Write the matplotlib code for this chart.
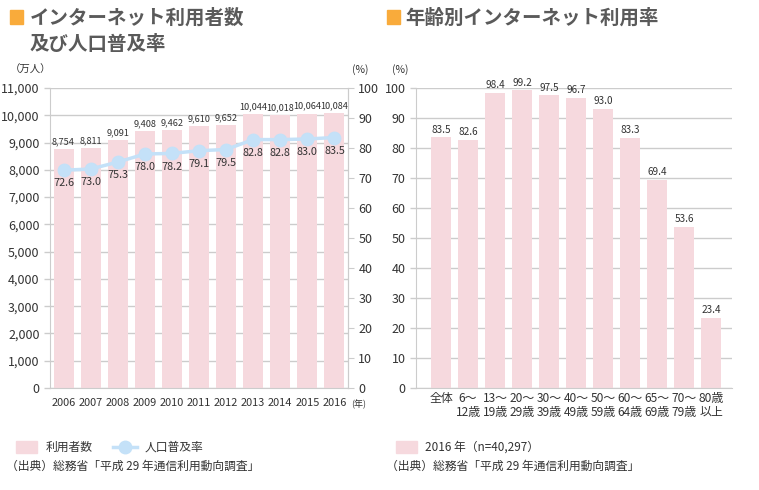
import numpy as np
import matplotlib
matplotlib.use('Agg')
import matplotlib.pyplot as plt
from matplotlib.patches import Rectangle
from matplotlib.lines import Line2D

plt.rcParams['font.family'] = ['Noto Sans CJK JP', 'DejaVu Sans']

years = ['2006', '2007', '2008', '2009', '2010', '2011', '2012', '2013', '2014', '2015', '2016']
users = [8754, 8811, 9091, 9408, 9462, 9610, 9652, 10044, 10018, 10064, 10084]
rate = [72.6, 73.0, 75.3, 78.0, 78.2, 79.1, 79.5, 82.8, 82.8, 83.0, 83.5]

ages = ['全体', '6～\n12歳', '13～\n19歳', '20～\n29歳', '30～\n39歳', '40～\n49歳',
        '50～\n59歳', '60～\n64歳', '65～\n69歳', '70～\n79歳', '80歳\n以上']
age_rate = [83.5, 82.6, 98.4, 99.2, 97.5, 96.7, 93.0, 83.3, 69.4, 53.6, 23.4]

pink = '#f6d9de'
blue = '#c4e1f8'
grid = '#cccccc'
txt = '#333333'
title_c = '#5a5a5a'
orange = '#f9ab3b'

W, H = 759, 490
fig = plt.figure(figsize=(W / 100, H / 100), dpi=100)


def fx(px):
    return px / W


def fy(py):
    return 1 - py / H


def style_axis(ax):
    for s in ['top', 'right']:
        ax.spines[s].set_visible(False)
    ax.spines['left'].set_color(grid)
    ax.spines['bottom'].set_color(grid)
    ax.tick_params(axis='y', colors=grid, labelcolor=txt, length=4, width=1, labelsize=9)
    ax.tick_params(axis='x', length=0, labelcolor=txt)
    ax.set_axisbelow(True)
    ax.yaxis.grid(True, color=grid, lw=1)


# ---- left chart
ax1 = fig.add_axes([fx(50), fy(388), fx(348 - 50), fy(88) - fy(388)])
x = np.arange(len(years))
ax1.bar(x, users, width=0.74, color=pink, zorder=2)
ax1.set_xlim(-0.5, 10.5)
ax1.set_ylim(0, 11000)
ax1.set_yticks(np.arange(0, 11001, 1000))
ax1.set_yticklabels([f'{v:,}' for v in range(0, 11001, 1000)])
ax1.set_xticks(x)
ax1.set_xticklabels(years, fontsize=7.9)
style_axis(ax1)
ax1.spines['right'].set_visible(True)
ax1.spines['right'].set_color(grid)
ax1.tick_params(axis='x', pad=7)
for xi, v in zip(x, users):
    ax1.annotate(f'{v:,}', (xi, v), xytext=(0, 2), textcoords='offset points',
                 ha='center', va='bottom', fontsize=6.6, color=txt)

ax2 = ax1.twinx()
ax2.plot(x, rate, color=blue, lw=2.5, marker='o', ms=9, zorder=3)
ax2.set_ylim(0, 100)
ax2.set_yticks(np.arange(0, 101, 10))
for s in ['top', 'left', 'bottom']:
    ax2.spines[s].set_visible(False)
ax2.spines['right'].set_color(grid)
ax2.tick_params(colors=grid, labelcolor=txt, length=4, labelsize=9)
for xi, v in zip(x, rate):
    ax2.annotate(f'{v:.1f}', (xi, v), xytext=(0, -9.5), textcoords='offset points',
                 ha='center', va='center', fontsize=7.8, color=txt)

fig.text(fx(10), fy(70), '（万人）', fontsize=7.5, color=txt, va='center')
fig.text(fx(352), fy(70), '(%)', fontsize=7.5, color=txt, va='center')
fig.text(fx(351), fy(404), '(年)', fontsize=6.5, color=txt, va='center')

# ---- right chart
ax3 = fig.add_axes([fx(416), fy(388), fx(732 - 416), fy(88) - fy(388)])
xa = np.arange(len(ages))
ax3.bar(xa, age_rate, width=0.74, color=pink, zorder=2)
ax3.set_xlim(-0.93, 10.78)
ax3.set_ylim(0, 100)
ax3.set_yticks(np.arange(0, 101, 10))
ax3.set_xticks(xa)
ax3.set_xticklabels(ages, fontsize=8.6, linespacing=1.05)
style_axis(ax3)
ax3.tick_params(axis='x', pad=3)
for xi, v in zip(xa, age_rate):
    ax3.annotate(f'{v:.1f}', (xi, v), xytext=(0, 2), textcoords='offset points',
                 ha='center', va='bottom', fontsize=7.2, color=txt)
fig.text(fx(392), fy(70), '(%)', fontsize=7.5, color=txt, va='center')

# ---- titles
for px in (10, 387):
    fig.patches.append(Rectangle((fx(px), fy(24)), fx(13), fy(10) - fy(24),
                                 transform=fig.transFigure, color=orange))
fig.text(fx(30), fy(18), 'インターネット利用者数', fontsize=14, weight='bold',
         color=title_c, va='center')
fig.text(fx(30), fy(44), '及び人口普及率', fontsize=14, weight='bold',
         color=title_c, va='center')
fig.text(fx(405), fy(18), '年齢別インターネット利用率', fontsize=14, weight='bold',
         color=title_c, va='center')

# ---- legends / source
fig.patches.append(Rectangle((fx(16), fy(453)), fx(21), fy(441) - fy(453),
                             transform=fig.transFigure, color=pink))
fig.text(fx(46), fy(447), '利用者数', fontsize=8.5, color=txt, va='center')
fig.lines.append(Line2D([fx(113), fx(137)], [fy(447), fy(447)], transform=fig.transFigure,
                        color=blue, lw=2.5))
fig.lines.append(Line2D([fx(125)], [fy(447)], transform=fig.transFigure,
                        color=blue, marker='o', ms=9, ls='none'))
fig.text(fx(145), fy(447), '人口普及率', fontsize=8.5, color=txt, va='center')
fig.text(fx(6), fy(466), '（出典）総務省「平成 29 年通信利用動向調査」', fontsize=8.5,
         color=txt, va='center')

fig.patches.append(Rectangle((fx(396), fy(453)), fx(21), fy(441) - fy(453),
                             transform=fig.transFigure, color=pink))
fig.text(fx(425), fy(447), '2016 年（n=40,297）', fontsize=8.5, color=txt, va='center')
fig.text(fx(386), fy(466), '（出典）総務省「平成 29 年通信利用動向調査」', fontsize=8.5,
         color=txt, va='center')

fig.savefig('out.png', dpi=100)
